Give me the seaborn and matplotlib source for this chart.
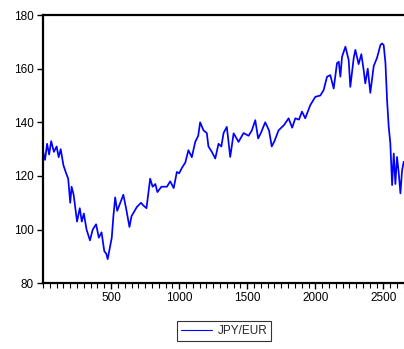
import matplotlib
matplotlib.use("Agg")
import matplotlib.pyplot as plt
from matplotlib.ticker import MultipleLocator
import pandas as pd
import seaborn as sns

# Observation index and JPY/EUR exchange rate
obs = [1, 15, 30, 45, 60, 80, 100, 115, 130, 150, 170, 185, 200, 210, 225,
       250, 270, 285, 300, 320, 345, 365, 390, 410, 430, 450, 465, 475, 490,
       505, 517, 530, 545, 560, 590, 610, 635, 650, 690, 720, 737, 760, 787,
       805, 825, 840, 870, 910, 934, 960, 983, 1000, 1020, 1045, 1068, 1093,
       1118, 1140, 1154, 1179, 1203, 1215, 1240, 1265, 1289, 1310, 1326, 1350,
       1375, 1400, 1436, 1473, 1510, 1534, 1559, 1580, 1600, 1632, 1660, 1680,
       1700, 1730, 1770, 1804, 1830, 1853, 1880, 1902, 1926, 1963, 2000, 2037,
       2061, 2086, 2110, 2135, 2159, 2172, 2184, 2196, 2221, 2245, 2257, 2282,
       2294, 2318, 2338, 2355, 2367, 2385, 2404, 2429, 2453, 2478, 2490, 2502,
       2515, 2527, 2539, 2551, 2564, 2576, 2588, 2600, 2613, 2625, 2637, 2649]
jpy_eur = [129, 126, 132, 128, 133, 129, 131, 127, 130, 124, 121, 119, 110,
           116, 113, 103, 108, 103, 106, 100, 96, 100, 102, 97, 99, 92, 91,
           89, 93, 97, 105, 112, 107, 109, 113, 108, 101, 105, 108.5, 110,
           109, 108, 119, 116, 117, 114, 116, 116, 118, 115.5, 121.5, 121,
           123, 125, 129.6, 127, 132.7, 135, 140, 137, 136, 131, 129, 126.5,
           132, 131, 136, 138.3, 127.1, 135.9, 132.7, 136, 135, 137, 140.8,
           134, 136, 140, 137, 131, 133, 137, 139, 141.5, 138, 141.5, 141,
           144, 141.5, 146.4, 149.5, 150, 152, 157, 157.6, 152.6, 162, 162.6,
           157, 164.4, 168.2, 163.2, 153.2, 164, 167, 161.7, 165.4, 159.5,
           154.5, 160, 151, 161, 164, 168.8, 169.4, 168.8, 162.2, 148.3,
           138.3, 132.1, 116.6, 128.4, 117, 127.1, 121, 113.5, 122, 125.3]

y_ticks = [80, 100, 120, 140, 160, 180]
x_ticks = [500, 1000, 1500, 2000, 2500]

df = pd.DataFrame({"obs": obs, "JPY/EUR": jpy_eur})

sns.set_style("ticks")
plt.rcParams["font.family"] = ["Liberation Sans", "DejaVu Sans"]

W, H = 404, 349
fig = plt.figure(figsize=(W / 100, H / 100), dpi=100)
ax = fig.add_axes([43 / W, 1 - 283.3 / H, (406 - 43) / W, (283.3 - 15) / H])

sns.lineplot(data=df, x="obs", y="JPY/EUR", ax=ax, color="#0000ff",
             linewidth=1.25, label="JPY/EUR", legend=False)

ax.set_xlim(0, 2666)
ax.set_ylim(80, 180)
ax.set_xticks(x_ticks)
ax.set_yticks(y_ticks)
ax.xaxis.set_minor_locator(MultipleLocator(50))
ax.set_xlabel("")
ax.set_ylabel("")

for side in ["left", "bottom", "top"]:
    ax.spines[side].set_color("black")
    ax.spines[side].set_linewidth(1.6)
ax.spines["right"].set_visible(False)

ax.tick_params(axis="both", which="major", direction="out", length=4,
               width=1.0, color="black", labelsize=8.5, labelcolor="black",
               pad=2.5)
ax.tick_params(axis="x", which="minor", direction="out", length=3.5,
               width=0.8, color="black")
ax.tick_params(axis="y", which="minor", left=False)

handles, labels = ax.get_legend_handles_labels()
leg = fig.legend(handles, labels, loc="center", bbox_to_anchor=(224 / W, 1 - 331 / H),
                 fontsize=8.5, frameon=True, fancybox=False, edgecolor="black",
                 handlelength=2.6, handletextpad=0.5, borderpad=0.35)
leg.get_frame().set_linewidth(0.8)
for line in leg.get_lines():
    line.set_linewidth(0.8)

fig.savefig("out.png", dpi=100, facecolor="white")
